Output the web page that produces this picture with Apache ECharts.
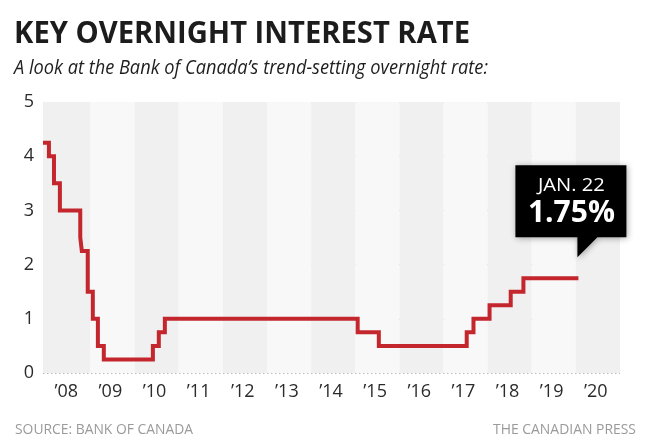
<!DOCTYPE html>
<html>
<head>
<meta charset="utf-8">
<script src="https://cdn.jsdelivr.net/npm/echarts@6/dist/echarts.min.js"></script>
<style>
html,body{margin:0;padding:0;background:#fff;}
#chart{width:650px;height:444px;}
</style>
</head>
<body>
<div id="chart"></div>
<script>
// ---- data ----
const changeDates = ['2007-12-04','2008-01-22','2008-03-04','2008-04-22','2008-10-08','2008-10-21','2008-12-09',
  '2009-01-20','2009-03-03','2009-04-21','2010-06-01','2010-07-20','2010-09-08','2015-01-21','2015-07-15',
  '2017-07-12','2017-09-06','2018-01-17','2018-07-11','2018-10-24','2020-01-22'];
const rates = [4.25,4.00,3.50,3.00,2.50,2.25,1.50,1.00,0.50,0.25,0.50,0.75,1.00,0.75,0.50,0.75,1.00,1.25,1.50,1.75,1.75];
const years = [2008,2009,2010,2011,2012,2013,2014,2015,2016,2017,2018,2019,2020];
const yearLabels = ['\u201908','\u201909','\u201910','\u201911','\u201912','\u201913','\u201914','\u201915','\u201916','\u201917','\u201918','\u201919','\u201920'];
const yTicks = [0,1,2,3,4,5];
const calloutDate = 'JAN. 22';
const calloutValue = '1.75%';
const titleText = 'KEY OVERNIGHT INTEREST RATE';
const subtitleText = 'A look at the Bank of Canada\u2019s trend-setting overnight rate:';
const sourceText = 'SOURCE: BANK OF CANADA';
const creditText = 'THE CANADIAN PRESS';

function decYear(s){
  const [y,m,d] = s.split('-').map(Number);
  const start = Date.UTC(y,0,1), end = Date.UTC(y+1,0,1);
  return y + (Date.UTC(y,m-1,d)-start)/(end-start);
}
const xs = changeDates.map(decYear);
const lineData = xs.map((x,i)=>[x, rates[i]]);
const xMin = xs[0];
const xMax = years[years.length-1] + 1;

const labelMap = {};
years.forEach((y,i)=>{ labelMap[(y+0.45).toFixed(2)] = yearLabels[i]; });

const bands = years.map((y,i)=>[
  {xAxis: i===0 ? xMin : y, itemStyle:{color: i%2===0 ? '#f0f0f0' : '#f8f8f8'}},
  {xAxis: y+1}
]);

const FONT = '"Open Sans", "Noto Sans", sans-serif';
const mctx = document.createElement('canvas').getContext('2d');
function scaleFor(text, font, target){ mctx.font = font; return target / mctx.measureText(text).width; }

const chart = echarts.init(document.getElementById('chart'), null, {renderer:'canvas'});
chart.setOption({
  animation:false,
  grid:{left:43, right:30, top:102, bottom:71},
  xAxis:{
    type:'value', min:xMin, max:xMax,
    axisLine:{show:false}, axisTick:{show:false}, splitLine:{show:false},
    axisLabel:{
      customValues: years.map(y=>+(y+0.45).toFixed(2)),
      formatter: v => labelMap[(+v).toFixed(2)] || '',
      color:'#2b2b2b', fontSize:18, fontFamily:FONT, margin:10
    }
  },
  yAxis:{
    type:'value', min:yTicks[0], max:yTicks[yTicks.length-1], interval:1,
    axisLine:{show:false},
    axisTick:{show:false, inside:true},
    minorTick:{show:true, splitNumber:4, length:3, lineStyle:{color:'#c4c4c4', width:1}},
    splitLine:{show:true, lineStyle:{color:'#b8b8b8', width:1, type:[1.5,2.5]}},
    axisLabel:{color:'#2b2b2b', fontSize:18, fontFamily:FONT, margin:9}
  },
  series:[
    {type:'line', data:[], z:1, silent:true,
     markArea:{silent:true, data:bands}},
    {type:'line', data:lineData, step:'end', showSymbol:false, symbol:'none', z:3,
     lineStyle:{color:'#c4262e', width:4, join:'miter', cap:'butt'}}
  ]
});

// annotations
const tip0 = chart.convertToPixel({xAxisIndex:0, yAxisIndex:0}, lineData[lineData.length-1]);
const tx = tip0[0] - 1, ty = tip0[1] - 21;
const titleFont = 'bold 30px ' + FONT;
const subFont = 'italic 20px ' + FONT;
const srcFont = '15px ' + FONT;
const jFont = '19px ' + FONT;
const vFont = 'bold 30px ' + FONT;
chart.setOption({
  graphic:[
    {type:'text', x:14, y:34, scaleX: scaleFor(titleText, titleFont, 456),
     style:{text:titleText, font:titleFont, fill:'#1c1c1c', align:'left', verticalAlign:'middle'}},
    {type:'text', x:14, y:68, scaleX: scaleFor(subtitleText, subFont, 474),
     style:{text:subtitleText, font:subFont, fill:'#1e1e1e', align:'left', verticalAlign:'middle'}},
    {type:'text', x:15, y:430, scaleX: scaleFor(sourceText, srcFont, 178),
     style:{text:sourceText, font:srcFont, fill:'#9a9a9a', align:'left', verticalAlign:'middle'}},
    {type:'text', x:636, y:430, scaleX: scaleFor(creditText, srcFont, 143),
     style:{text:creditText, font:srcFont, fill:'#9a9a9a', align:'right', verticalAlign:'middle'}},
    {type:'polygon', z:10,
     shape:{points:[[tx-62,ty-92],[tx+49,ty-92],[tx+49,ty-20],[tx+20,ty-20],[tx,ty],[tx,ty-20],[tx-62,ty-20]]},
     style:{fill:'#000', shadowBlur:6, shadowColor:'rgba(0,0,0,0.35)', shadowOffsetX:1, shadowOffsetY:1}},
    {type:'text', z:11, x:tx-6, y:ty-72, scaleX: scaleFor(calloutDate, jFont, 67),
     style:{text:calloutDate, font:jFont, fill:'#fff', align:'center', verticalAlign:'middle'}},
    {type:'text', z:11, x:tx-6, y:ty-44, scaleX: scaleFor(calloutValue, vFont, 87),
     style:{text:calloutValue, font:vFont, fill:'#fff', align:'center', verticalAlign:'middle'}}
  ]
});
</script>
</body>
</html>
